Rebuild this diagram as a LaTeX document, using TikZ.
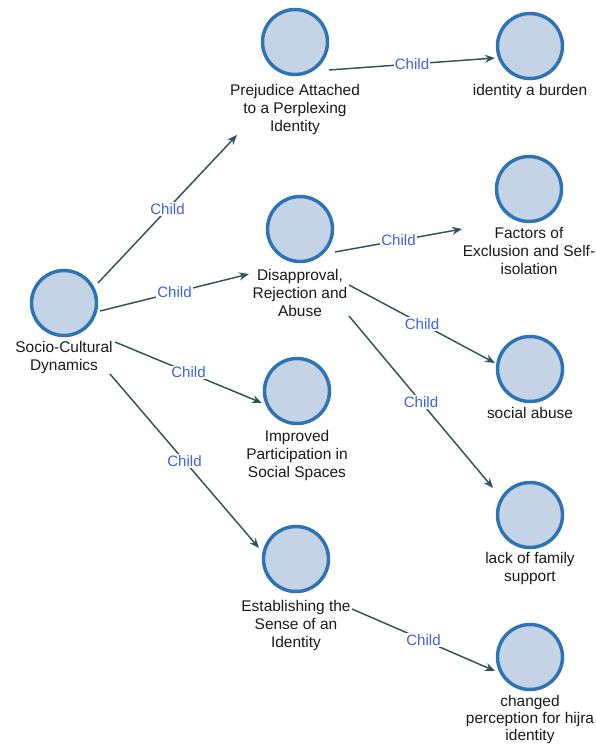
\documentclass[tikz,border=0pt]{standalone}
\usepackage{fontspec}
\setmainfont{Liberation Sans}
\usetikzlibrary{arrows.meta,calc}
\definecolor{cfill}{HTML}{C5D3E7}
\definecolor{cdraw}{HTML}{2E74B5}
\definecolor{edgec}{HTML}{2F5656}
\definecolor{childc}{HTML}{3F62E0}
\definecolor{txtc}{HTML}{1A1A1A}
\tikzset{
  concept/.style={circle,fill=cfill,draw=cdraw,line width=2.6pt,minimum size=65*0.75pt,inner sep=0pt},
  conlabel/.style={anchor=north,align=center,inner sep=0pt,text=txtc,font=\fontsize{11.6}{13.4}\selectfont},
  edge/.style={draw=edgec,line width=1.1pt,-{Stealth[length=7.5pt,width=6pt]}},
  childlab/.style={fill=white,inner sep=0.8pt,text=childc,font=\fontsize{11.3}{13}\selectfont}
}
\begin{document}
\begin{tikzpicture}[x=0.75pt,y=-0.75pt]
\useasboundingbox[fill=white] (0,0) rectangle (596,744);
% concepts
\node[concept] (c0) at (64,303) {};
\node[conlabel] (l0) at ($(c0)+(0,38)$) {Socio-Cultural\\Dynamics};
\node[concept] (c1) at (295,42) {};
\node[conlabel] (l1) at ($(c1)+(0,42)$) {Prejudice Attached\\to a Perplexing\\Identity};
\node[concept] (c2) at (530,46) {};
\node[conlabel] (l2) at ($(c2)+(0,38)$) {identity a burden};
\node[concept] (c3) at (300,229) {};
\node[conlabel] (l3) at ($(c3)+(0,40)$) {Disapproval,\\Rejection and\\Abuse};
\node[concept] (c4) at (529,189) {};
\node[conlabel] (l4) at ($(c4)+(0,38)$) {Factors of\\Exclusion and Self-\\isolation};
\node[concept] (c5) at (530,369) {};
\node[conlabel] (l5) at ($(c5)+(0,38)$) {social abuse};
\node[concept] (c6) at (530,515) {};
\node[conlabel] (l6) at ($(c6)+(0,37)$) {lack of family\\support};
\node[concept] (c7) at (297,391) {};
\node[conlabel] (l7) at ($(c7)+(0,39)$) {Improved\\Participation in\\Social Spaces};
\node[concept] (c8) at (296,559) {};
\node[conlabel] (l8) at ($(c8)+(0,41)$) {Establishing the\\Sense of an\\Identity};
\node[concept] (c9) at (530,657) {};
\node[conlabel,font=\fontsize{11.6}{12.6}\selectfont] (l9) at ($(c9)+(0,38)$) {changed\\perception for hijra\\identity};
% edges
\draw[edge] ($(c0)+(34,-20)$) -- node[childlab]{Child} ($(c1)+(-58,93)$);
\draw[edge] ($(c0)+(36,8)$) -- node[childlab]{Child} ($(c3)+(-51,45)$);
\draw[edge] ($(c0)+(51,39)$) -- node[childlab]{Child} ($(c7)+(-35,12)$);
\draw[edge] ($(c0)+(46,71)$) -- node[childlab]{Child} ($(c8)+(-37,-11)$);
\draw[edge] ($(c1)+(34,28)$) -- node[childlab]{Child} ($(c2)+(-35,12)$);
\draw[edge] ($(c3)+(35,23)$) -- node[childlab]{Child} ($(c4)+(-67,40)$);
\draw[edge] ($(c3)+(49,56)$) -- node[childlab]{Child} ($(c5)+(-35,-6)$);
\draw[edge] ($(c3)+(49,87)$) -- node[childlab]{Child} ($(c6)+(-37,-27)$);
\draw[edge] ($(c8)+(56,50)$) -- node[childlab]{Child} ($(c9)+(-35,14)$);
\end{tikzpicture}
\end{document}
